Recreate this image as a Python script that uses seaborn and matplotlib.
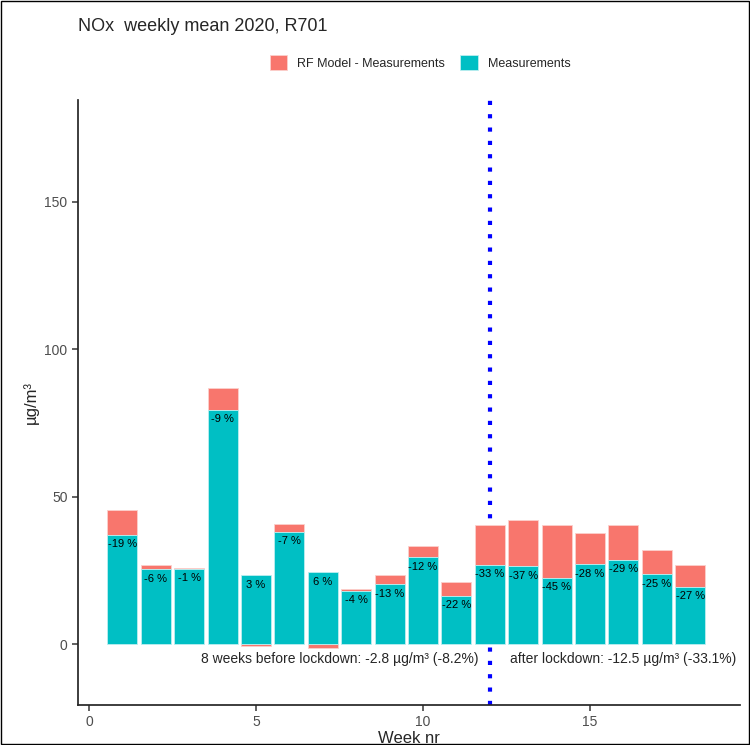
import numpy as np
import pandas as pd
import matplotlib.pyplot as plt
import seaborn as sns

weeks = np.arange(1, 19)
measured = [37.0, 25.4, 25.5, 79.5, 23.3, 38.1, 24.3, 18.1, 20.3, 29.4,
            16.4, 26.9, 26.4, 22.4, 27.1, 28.6, 23.7, 19.5]
model = [45.5, 26.9, 25.8, 86.8, 22.6, 40.7, 22.9, 18.6, 23.3, 33.3,
         20.9, 40.5, 42.0, 40.5, 37.6, 40.3, 31.9, 26.9]
pct_labels = ["-19 %", "-6 %", "-1 %", "-9 %", "3 %", "-7 %", "6 %", "-4 %", "-13 %",
              "-12 %", "-22 %", "-33 %", "-37 %", "-45 %", "-28 %", "-29 %", "-25 %", "-27 %"]
lockdown_week = 12
note_before = "8 weeks before lockdown: -2.8 µg/m³ (-8.2%)"
note_after = "after lockdown: -12.5 µg/m³ (-33.1%)"

sns.set_theme(style="ticks")
plt.rcParams['font.family'] = ['Liberation Sans', 'DejaVu Sans']

df = pd.DataFrame({"week": weeks, "meas": measured, "model": model})
df["diff"] = df["model"] - df["meas"]

fig = plt.figure(figsize=(7.5, 7.45), dpi=100, facecolor="white")
ax = fig.add_axes([0.104, 0.054, 0.883, 0.812])

red = "#F8766D"
teal = "#00BFC4"
ax.axvline(lockdown_week, color="blue", linestyle=(0, (1, 2.2)), linewidth=3, zorder=0.5)
bottom = np.where(df["diff"] > 0, df["meas"], 0)
ax.bar(df["week"], df["diff"], bottom=bottom, width=0.9, color=red,
       edgecolor="#fbd0cc", linewidth=0.6, label="RF Model - Measurements", zorder=1)
sns.barplot(data=df, x="week", y="meas", native_scale=True, width=0.9, color=teal,
            saturation=1, edgecolor="#bdeef0", linewidth=0.6, label="Measurements",
            ax=ax, zorder=1)

for w, m, t in zip(df["week"], df["meas"], pct_labels):
    ax.text(w, m - 1.5, t, ha="center", va="top", fontsize=8, color="black", zorder=3)

ax.text(7.5, -5, note_before, ha="center", va="center", fontsize=10)
ax.text(16.0, -5, note_after, ha="center", va="center", fontsize=10)

ax.set_xlim(-0.33, 19.5)
ax.set_ylim(-20.6, 184.6)
ax.set_xticks([0, 5, 10, 15])
ax.set_xticklabels(["0", "5", "10", "15"])
ax.set_yticks([0, 50, 100, 150])
ax.tick_params(axis="both", colors="#4d4d4d", labelsize=10, length=4)
sns.despine(ax=ax)
ax.set_xlabel("Week nr", fontsize=12, labelpad=1)
ax.set_ylabel("µg/m³", fontsize=12)

fig.text(0.104, 0.965, "NOx  weekly mean 2020, R701", fontsize=13, ha="left", va="center")
h, l = ax.get_legend_handles_labels()
if ax.get_legend():
    ax.get_legend().remove()
fig.legend(h, l, loc="center", bbox_to_anchor=(0.56, 0.916),
           ncol=2, frameon=False, fontsize=9, handlelength=1.4, handleheight=1.4,
           columnspacing=1.2)

fig.patches.append(plt.Rectangle((0.001, 0.001), 0.997, 0.997, transform=fig.transFigure,
                                 fill=False, edgecolor="black", linewidth=1))
fig.savefig("out.png", dpi=100, facecolor="white")
